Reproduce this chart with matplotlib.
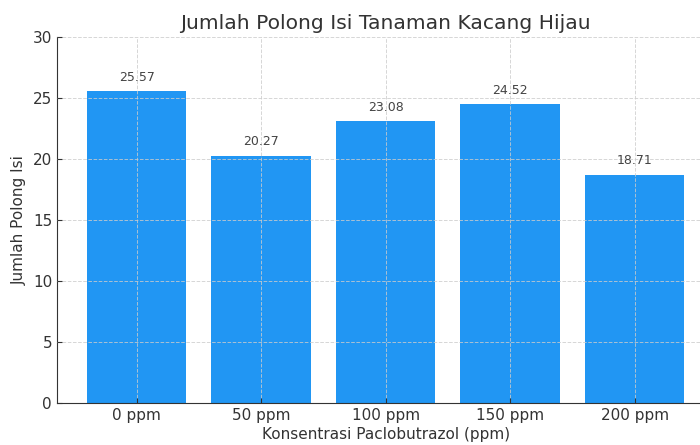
import matplotlib
matplotlib.use("Agg")
import matplotlib.pyplot as plt
import numpy as np

# data
kategori = ['0 ppm', '50 ppm', '100 ppm', '150 ppm', '200 ppm']
polong_isi = [25.57, 20.27, 23.08, 24.52, 18.71]

plt.rcParams['text.color'] = '#333333'
plt.rcParams['axes.labelcolor'] = '#333333'
plt.rcParams['xtick.color'] = '#333333'
plt.rcParams['ytick.color'] = '#333333'

fig = plt.figure(figsize=(7, 4.45), dpi=100)
ax = fig.add_axes([0.0814, 0.0944, 0.939, 0.8225])

x = np.arange(len(kategori))
bars = ax.bar(x, polong_isi, width=0.8, color='#2196F3', zorder=1)

for b, v in zip(bars, polong_isi):
    ax.text(b.get_x() + b.get_width() / 2, v + 0.6, f'{v:.2f}',
            ha='center', va='bottom', fontsize=9, color='#444444')

ax.set_xticks(x)
ax.set_xticklabels(kategori, fontsize=11)
ax.set_xlim(-0.64, 4.64)
ax.set_ylim(0, 30)
ax.set_yticks(range(0, 31, 5))
ax.tick_params(axis='both', direction='in', labelsize=11)

ax.set_title('Jumlah Polong Isi Tanaman Kacang Hijau', fontsize=14.6, pad=6)
ax.set_xlabel('Konsentrasi Paclobutrazol (ppm)', fontsize=11, labelpad=3)
ax.set_ylabel('Jumlah Polong Isi', fontsize=11, labelpad=4)

ax.grid(True, linestyle='--', color='#cccccc', linewidth=0.7, alpha=0.8, zorder=2)
ax.set_axisbelow(False)
ax.spines['top'].set_visible(False)
ax.spines['right'].set_visible(False)
ax.spines['left'].set_color('#333333')
ax.spines['bottom'].set_color('#333333')

fig.savefig('out.png', dpi=100)
